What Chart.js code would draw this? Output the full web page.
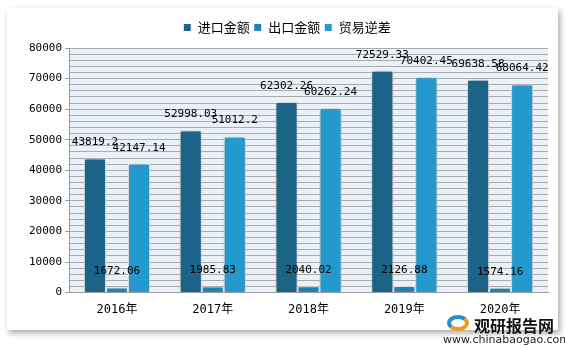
<!DOCTYPE html>
<html>
<head>
<meta charset="utf-8">
<script src="https://cdn.jsdelivr.net/npm/chart.js@4/dist/chart.umd.min.js"></script>
<style>
  body { margin: 0; background: #fff; }
  #wrap { position: relative; width: 565px; height: 347px; overflow: hidden; }
  #panel { position: absolute; left: 7px; top: 8px; width: 551px; height: 322px; background: #fff;
           box-shadow: 2px 3px 6px rgba(0,0,0,0.35); }
  #myChart { position: absolute; left: 0; top: 0; }
  #logo { position: absolute; left: 474px; top: 313px; font: bold 16px "Noto Sans CJK SC"; color: #111; }
  #url { position: absolute; left: 443px; top: 333px; font: 11px "DejaVu Sans"; color: #222; }
  #icon { position: absolute; left: 447px; top: 315px; width: 22px; height: 16px; border-radius: 50%;
          border: 4px solid #2a8fc4; border-right-color: #f29a1e; border-bottom-color: #f29a1e; box-sizing: border-box; }
</style>
</head>
<body>
<div id="wrap">
  <div id="panel"></div>
  <canvas id="myChart" width="565" height="347"></canvas>
  <div id="icon"></div>
  <div id="logo">观研报告网</div>
  <div id="url">www.chinabaogao.com</div>
</div>
<script>
const labels = ['2016年', '2017年', '2018年', '2019年', '2020年'];
const imports = [43819.2, 52998.03, 62302.26, 72529.33, 69638.58];
const exports = [1672.06, 1985.83, 2040.02, 2126.88, 1574.16];
const deficit = [42147.14, 51012.2, 60262.24, 70402.45, 68064.42];

// light plot background
const plotBg = {
  id: 'plotBg',
  beforeDraw(chart) {
    const a = chart.chartArea, c = chart.ctx;
    c.save();
    c.fillStyle = '#eaf1f8';
    c.fillRect(a.left, a.top, a.right - a.left, a.bottom - a.top);
    c.restore();
  }
};

// a bit more room under the legend
const legendGap = {
  id: 'legendGap',
  beforeInit(chart) {
    const fit = chart.legend.fit;
    chart.legend.fit = function () {
      fit.bind(chart.legend)();
      this.height += 4;
    };
  }
};

// soft shadow behind the bars
const barShadow = {
  id: 'barShadow',
  beforeDatasetsDraw(chart) {
    const c = chart.ctx;
    c.save();
    c.shadowColor = 'rgba(0,0,0,0.4)';
    c.shadowBlur = 7;
  },
  afterDatasetsDraw(chart) {
    chart.ctx.restore();
  }
};

// value labels above each bar
const valueLabels = {
  id: 'valueLabels',
  afterDatasetsDraw(chart) {
    const c = chart.ctx;
    c.save();
    c.font = '11px "DejaVu Sans Mono"';
    c.fillStyle = '#000';
    c.textAlign = 'center';
    c.textBaseline = 'middle';
    chart.data.datasets.forEach((ds, i) => {
      chart.getDatasetMeta(i).data.forEach((bar, j) => {
        c.fillText(String(ds.data[j]), bar.x, bar.y - 16);
      });
    });
    c.restore();
  }
};

var ctx = document.getElementById('myChart').getContext('2d');
var chart = new Chart(ctx, {
  type: 'bar',
  data: {
    labels: labels,
    datasets: [
      { label: '进口金额', data: imports, backgroundColor: '#1b6487' },
      { label: '出口金额', data: exports, backgroundColor: '#2284b5' },
      { label: '贸易逆差', data: deficit, backgroundColor: '#2499cd' }
    ]
  },
  options: {
    responsive: false,
    animation: false,
    layout: { padding: { left: 26, right: 17, top: 17, bottom: 28 } },
    datasets: {
      bar: {
        categoryPercentage: 0.69,
        barPercentage: 1.0,
        borderColor: '#ffffff',
        borderWidth: 1
      }
    },
    plugins: {
      legend: {
        position: 'top',
        labels: {
          boxWidth: 8,
          boxHeight: 8,
          padding: 4,
          color: '#000',
          font: { family: '"Noto Sans CJK SC"', size: 13 }
        }
      },
      tooltip: { enabled: false }
    },
    scales: {
      x: {
        grid: { display: false },
        border: { color: '#999' },
        ticks: { color: '#000', padding: 2, font: { family: '"DejaVu Sans Mono", "Noto Sans CJK SC"', size: 12 } }
      },
      y: {
        min: 0,
        max: 80000,
        border: { color: '#999' },
        grid: {
          color: '#aaaaaa',
          tickLength: 4,
          tickColor: (c) => (c.tick && c.tick.value % 10000 === 0) ? '#999' : 'rgba(0,0,0,0)'
        },
        ticks: {
          stepSize: 2000,
          autoSkip: false,
          color: '#000',
          padding: 3,
          font: { family: '"DejaVu Sans Mono"', size: 11 },
          callback: (v) => v % 10000 === 0 ? v : ''
        }
      }
    }
  },
  plugins: [plotBg, legendGap, barShadow, valueLabels]
});
</script>
</body>
</html>
